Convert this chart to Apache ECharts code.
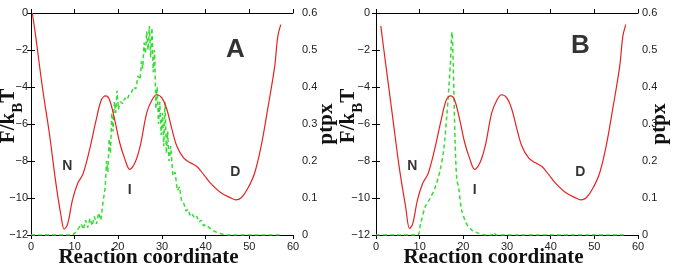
<!DOCTYPE html>
<html>
<head>
<meta charset="utf-8">
<script src="https://cdn.jsdelivr.net/npm/echarts@6/dist/echarts.min.js"></script>
<style>
  html, body { margin: 0; padding: 0; background: #fff; }
  #chart { width: 674px; height: 270px; }
</style>
</head>
<body>
<div id="chart"></div>
<script>
// free energy profile (x = reaction coordinate, y = F/kBT)
const redA = [[0.3, 0], [1.1, -1.3], [2.6, -4.0], [4.2, -6.5], [5.7, -9.2], [6.9, -11.0], [7.6, -11.68], [8.4, -11.4],
  [9.5, -10.1], [10.7, -9.2], [11.9, -8.7], [13.4, -7.4], [14.9, -5.8], [16.1, -4.7], [17.1, -4.48], [18.0, -4.7],
  [19.2, -5.8], [20.3, -7.0], [21.5, -7.9], [22.6, -8.45], [23.8, -8.1], [25.0, -7.2], [26.5, -5.4], [27.7, -4.7],
  [28.8, -4.42], [30.0, -4.6], [31.1, -5.2], [32.3, -6.3], [33.4, -7.2], [35.0, -7.85], [36.5, -8.1], [38.0, -8.3],
  [39.6, -8.75], [41.1, -9.2], [43.4, -9.7], [45.8, -10.0], [46.9, -10.1], [48.1, -10.0], [49.6, -9.5], [51.2, -8.66],
  [52.7, -7.2], [54.2, -5.2], [55.8, -2.9], [56.5, -1.3], [57.2, -0.63]];
const redB = [[1.1, -0.7], [2.3, -2.9], [3.8, -5.6], [5.3, -8.3], [6.8, -10.5], [7.7, -11.65], [8.4, -11.4],
  [9.5, -10.1], [10.7, -9.2], [11.9, -8.7], [13.4, -7.4], [14.9, -5.8], [16.1, -4.7], [17.1, -4.48], [18.0, -4.7],
  [19.2, -5.8], [20.3, -7.0], [21.5, -7.9], [22.6, -8.45], [23.8, -8.1], [25.0, -7.2], [26.5, -5.4], [27.7, -4.7],
  [28.8, -4.42], [30.0, -4.6], [31.1, -5.2], [32.3, -6.3], [33.4, -7.2], [35.0, -7.85], [36.5, -8.1], [38.0, -8.3],
  [39.6, -8.75], [41.1, -9.2], [43.4, -9.7], [45.8, -10.0], [46.9, -10.1], [48.1, -10.0], [49.6, -9.5], [51.2, -8.66],
  [52.7, -7.2], [54.2, -5.2], [55.8, -2.9], [56.5, -1.3], [57.2, -0.63]];

// ptpx, panel A is noisy, panel B is a single sharp peak
const greenA = [[0, 0], [5, 0], [9.5, 0], [10, 0.005], [10.5, 0.012], [11, 0.02], [11.5, 0.03], [12, 0.015], [12.5, 0.04],
  [13, 0.02], [13.5, 0.045], [14, 0.025], [14.5, 0.05], [15, 0.03], [15.5, 0.06], [16, 0.04], [16.5, 0.09], [17, 0.13],
  [17.3, 0.2], [17.6, 0.17], [17.9, 0.26], [18.2, 0.22], [18.5, 0.33], [18.8, 0.28], [19.1, 0.36], [19.4, 0.33],
  [19.7, 0.39], [20, 0.34], [20.5, 0.36], [21, 0.355], [21.5, 0.37], [22, 0.365], [22.5, 0.38], [23, 0.385],
  [23.5, 0.40], [24, 0.395], [24.5, 0.43], [25, 0.42], [25.3, 0.47], [25.6, 0.45], [25.9, 0.52], [26.2, 0.49],
  [26.5, 0.55], [26.8, 0.50], [27.1, 0.565], [27.4, 0.48], [27.7, 0.56], [28, 0.44], [28.3, 0.50], [28.6, 0.34],
  [28.9, 0.40], [29.2, 0.30], [29.5, 0.36], [29.8, 0.27], [30.1, 0.33], [30.4, 0.24], [30.7, 0.36], [31, 0.22],
  [31.3, 0.28], [31.6, 0.2], [32, 0.24], [32.5, 0.16], [33, 0.17], [33.5, 0.12], [34, 0.13], [34.5, 0.09],
  [35, 0.085], [35.5, 0.065], [36, 0.07], [36.5, 0.05], [37, 0.055], [37.5, 0.045], [38, 0.05], [38.5, 0.035],
  [39, 0.04], [39.5, 0.025], [40, 0.028], [41, 0.018], [42, 0.01], [43, 0.005], [44, 0.002], [45, 0], [57, 0]];
const greenB = [[0, 0], [5, 0], [9.5, 0], [10.2, 0.03], [11.3, 0.077], [12.45, 0.1], [13.6, 0.13], [14.7, 0.176],
  [15.5, 0.23], [16.2, 0.32], [17.0, 0.456], [17.4, 0.548], [17.7, 0.456], [18.1, 0.257], [18.5, 0.15], [18.9, 0.13],
  [19.6, 0.068], [20.75, 0.03], [21.9, 0.014], [23.4, 0.005], [25, 0], [26.5, 0], [27, 0.007], [27.5, 0], [57, 0]];

// basin labels and panel letters, in data coordinates of the F axis
const basinNames = ['N', 'I', 'D'];
const basinA = [[8.3, -8.3], [22.6, -9.55], [46.8, -8.6]];
const basinB = [[8.3, -8.3], [22.6, -9.55], [46.8, -8.6]];
const panelNames = ['A', 'B'];

const xTicks = { min: 0, max: 60, interval: 10 };
const fTicks = { min: -12, max: 0, interval: 2 };
const pTicks = { min: 0, max: 0.6, interval: 0.1 };

const sans = 'Liberation Sans, Arial, sans-serif';
const serif = 'Liberation Serif, Times New Roman, serif';
const lineStyle = { color: '#000', width: 1 };
const tick = { inside: true, length: 4, lineStyle: lineStyle };
const tickLabel = { fontFamily: sans, fontSize: 11, color: '#222' };

const chart = echarts.init(document.getElementById('chart'));

// the two panels are not laid out quite the same in the source figure
const panels = [
  { left: 31, leftLabel: 3, leftGap: 5, rightLabel: 9, rightGap: 23 },
  { left: 376, leftLabel: 6, leftGap: 10, rightLabel: 4, rightGap: 11 }
];
const grids = panels.map(p => ({
  left: p.left, top: 13, width: 262, height: 222, outerBoundsMode: 'none', containLabel: false
}));

const xAxes = [];
const yAxes = [];
panels.forEach((p, i) => {
  xAxes.push({
    type: 'value', gridIndex: i, position: 'bottom', ...xTicks,
    axisLine: { lineStyle: lineStyle }, axisTick: tick, splitLine: { show: false },
    axisLabel: { ...tickLabel, margin: 6 },
    name: 'Reaction coordinate', nameLocation: 'middle', nameGap: 12, nameMoveOverlap: false,
    nameTextStyle: { fontFamily: serif, fontWeight: 'bold', fontSize: 21, color: '#111', padding: [0, 27, 0, 0] }
  });
  xAxes.push({
    type: 'value', gridIndex: i, position: 'top', ...xTicks,
    axisLine: { lineStyle: lineStyle }, axisTick: tick, splitLine: { show: false },
    axisLabel: { show: false }
  });
  yAxes.push({
    type: 'value', gridIndex: i, position: 'left', ...fTicks,
    axisLine: { show: true, lineStyle: lineStyle }, axisTick: tick, splitLine: { show: false },
    axisLabel: { ...tickLabel, margin: p.leftLabel, formatter: v => String(v).replace('-', '\u2212') },
    name: '{a|F/k}{b|B}{a|T}', nameLocation: 'middle', nameGap: p.leftGap, nameRotate: 90, nameMoveOverlap: false,
    nameTextStyle: {
      padding: [0, 0, 0, 16],
      rich: {
        a: { fontFamily: serif, fontWeight: 'bold', fontSize: 21, color: '#111', lineHeight: 28, verticalAlign: 'top' },
        b: { fontFamily: serif, fontWeight: 'bold', fontSize: 15, color: '#111', lineHeight: 28, verticalAlign: 'bottom' }
      }
    }
  });
  yAxes.push({
    type: 'value', gridIndex: i, position: 'right', ...pTicks,
    axisLine: { show: true, lineStyle: lineStyle }, axisTick: tick, splitLine: { show: false },
    axisLabel: { ...tickLabel, margin: p.rightLabel, formatter: v => (v === 0 ? '0' : v.toFixed(1)) },
    name: 'ptpx', nameLocation: 'middle', nameGap: p.rightGap, nameRotate: 90, nameMoveOverlap: false,
    nameTextStyle: { fontFamily: serif, fontWeight: 'bold', fontSize: 21, color: '#111' }
  });
});

const redSeries = (data, i) => ({
  type: 'line', xAxisIndex: i * 2, yAxisIndex: i * 2, data: data, smooth: 0.35,
  showSymbol: false, lineStyle: { color: '#e52222', width: 1.2 }, z: 3
});
const greenSeries = (data, i, smooth) => ({
  type: 'line', xAxisIndex: i * 2, yAxisIndex: i * 2 + 1, data: data, smooth: smooth,
  showSymbol: false, lineStyle: { color: '#33dd33', width: 1.5, type: [4, 3] }, z: 2
});
const labelSeries = (coords, i) => ({
  type: 'scatter', xAxisIndex: i * 2, yAxisIndex: i * 2, symbolSize: 0, silent: true,
  data: coords.map((c, k) => ({ value: c, name: basinNames[k] })),
  label: { show: true, position: 'inside', formatter: '{b}', fontFamily: sans, fontWeight: 'bold', fontSize: 14, color: '#000' }
});
const panelSeries = (i) => ({
  type: 'scatter', xAxisIndex: i * 2, yAxisIndex: i * 2, symbolSize: 0, silent: true,
  data: [{ value: [46.8, i === 0 ? -2.0 : -1.8], name: panelNames[i] }],
  label: { show: true, position: 'inside', formatter: '{b}', fontFamily: sans, fontWeight: 'bold', fontSize: 26, color: '#000' }
});

chart.setOption({
  animation: false,
  backgroundColor: '#fff',
  grid: grids,
  xAxis: xAxes,
  yAxis: yAxes,
  series: [
    greenSeries(greenA, 0, false),
    redSeries(redA, 0),
    labelSeries(basinA, 0),
    panelSeries(0),
    greenSeries(greenB, 1, 0.3),
    redSeries(redB, 1),
    labelSeries(basinB, 1),
    panelSeries(1)
  ]
});
</script>
</body>
</html>
